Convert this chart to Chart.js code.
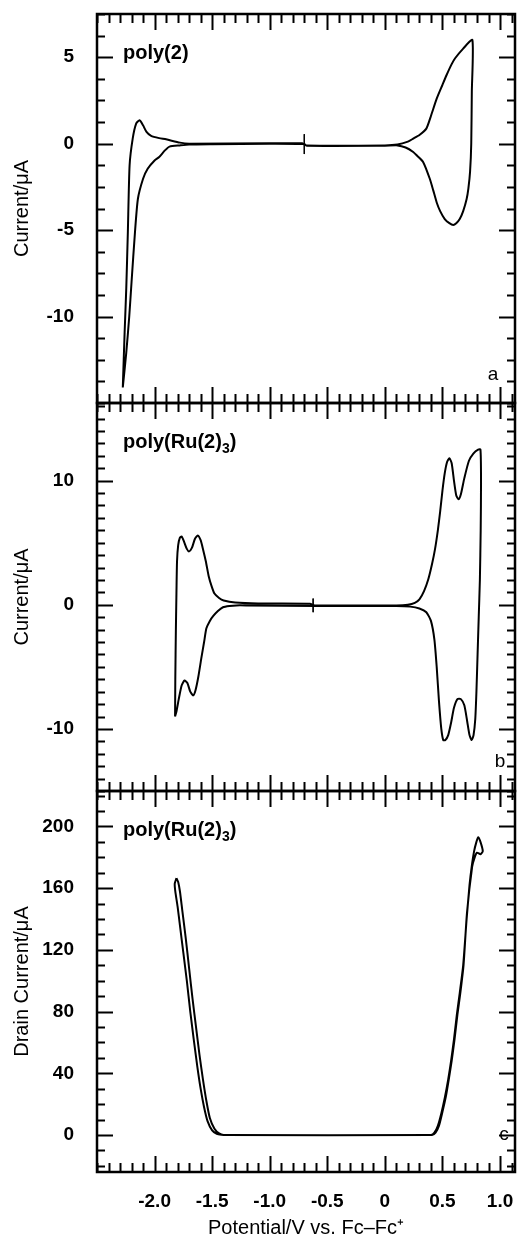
<!DOCTYPE html>
<html><head><meta charset="utf-8">
<script src="https://cdn.jsdelivr.net/npm/chart.js@4.4.1/dist/chart.umd.min.js"></script>
<style>html,body{margin:0;padding:0;background:#fff;} #wrap{width:523px;height:1238px;position:relative;}</style>
</head><body><div id="wrap"><canvas id="cv"></canvas></div>
<script>
// ---------- axes ----------
const potentialRange = [-2.5, 1.13];
const xTickValues = [-2.0, -1.5, -1.0, -0.5, 0, 0.5, 1.0];
const xTickLabels = ['-2.0', '-1.5', '-1.0', '-0.5', '0', '0.5', '1.0'];
const xMinorStep = 0.1;

const aRange = [-15, 7.5];
const aTickValues = [-10, -5, 0, 5];
const aTickLabels = ['-10', '-5', '0', '5'];
const aMinorStep = 1.25;

const bRange = [-15, 16.25];
const bTickValues = [-10, 0, 10];
const bTickLabels = ['-10', '0', '10'];
const bMinorStep = 1;

const cRange = [-24, 223];
const cTickValues = [0, 40, 80, 120, 160, 200];
const cTickLabels = ['0', '40', '80', '120', '160', '200'];
const cMinorStep = 10;

// ---------- panel a : poly(2) ----------
const aPotential = [-2.276,-2.26,-2.246,-2.232,-2.217,-2.19,-2.16,-2.13,-2.10,-2.07,-2.03,-1.96,-1.90,-1.78,-1.70,-1.0,-0.72,-0.68,0.0,0.11,0.20,0.246,0.30,0.36,0.40,0.45,0.50,0.536,0.58,0.61,0.68,0.76,
  0.755,0.75,0.74,0.725,0.71,0.68,0.65,0.62,0.594,0.56,0.52,0.48,0.45,0.42,0.39,0.333,0.28,0.246,0.18,0.11,0.0,-0.68,-0.70,-1.0,-1.5,-1.70,-1.78,-1.87,-1.91,-1.96,-2.0,-2.06,-2.10,-2.145,-2.17,-2.20,-2.22,-2.246,-2.276];
const aCurrent = [-14.1,-10.9,-8.4,-5.1,-1.26,0.29,1.16,1.35,1.06,0.68,0.45,0.32,0.25,0.06,0.0,0.02,0.02,-0.1,-0.1,-0.05,0.12,0.29,0.5,0.87,1.6,2.6,3.4,3.97,4.6,4.94,5.5,6.0,
  3.0,0.0,-1.6,-2.6,-3.2,-3.9,-4.36,-4.6,-4.7,-4.6,-4.36,-3.9,-3.4,-2.7,-2.03,-1.07,-0.7,-0.48,-0.22,-0.1,-0.12,-0.12,-0.02,0.0,-0.03,-0.05,-0.1,-0.17,-0.39,-0.77,-0.97,-1.45,-2.03,-3.2,-5.1,-8.0,-10.0,-12.1,-14.1];
const aMarkPotential = [-0.70, -0.70];
const aMarkCurrent = [0.55, -0.6];

// ---------- panel b : poly(Ru(2)3) ----------
const bPotential = [-1.822,-1.82,-1.815,-1.81,-1.805,-1.795,-1.78,-1.765,-1.745,-1.72,-1.70,-1.675,-1.65,-1.625,-1.60,-1.58,-1.555,-1.53,-1.505,-1.48,-1.44,-1.40,-1.30,-1.10,-0.65,
  -0.61,0.10,0.20,0.26,0.30,0.34,0.377,0.41,0.435,0.46,0.48,0.50,0.52,0.54,0.56,0.58,0.60,0.62,0.64,0.66,0.69,0.73,0.77,0.81,0.83,
  0.835,0.832,0.825,0.815,0.805,0.795,0.785,0.77,0.754,0.735,0.715,0.69,0.66,0.63,0.60,0.575,0.55,0.525,0.507,0.49,0.47,0.45,0.43,0.40,0.36,0.30,0.22,0.10,
  -0.6,-1.2,-1.29,-1.35,-1.406,-1.45,-1.49,-1.52,-1.55,-1.57,-1.594,-1.62,-1.645,-1.665,-1.69,-1.715,-1.74,-1.765,-1.79,-1.81,-1.822];
const bCurrent = [-9.0,-6.0,-2.0,1.0,3.5,4.8,5.4,5.5,5.1,4.5,4.3,4.6,5.3,5.58,5.2,4.5,3.5,2.3,1.5,0.9,0.55,0.35,0.18,0.1,0.08,
  -0.05,-0.05,0.0,0.15,0.44,1.1,2.05,3.3,4.46,6.0,7.5,9.2,10.6,11.5,11.8,11.4,10.0,8.8,8.5,8.9,10.2,11.6,12.2,12.5,12.5,
  10,6,2,-1,-4,-7,-9.2,-10.5,-10.9,-10.5,-9.4,-8.1,-7.6,-7.6,-8.3,-9.5,-10.5,-10.9,-10.9,-10.0,-7.8,-5.0,-2.8,-1.3,-0.6,-0.3,-0.15,-0.1,
  -0.1,-0.05,-0.05,-0.1,-0.2,-0.5,-0.9,-1.3,-1.9,-3.0,-4.3,-5.8,-6.9,-7.3,-7.0,-6.3,-6.1,-6.5,-7.6,-8.6,-9.0];
const bMarkPotential = [-0.623, -0.623];
const bMarkCurrent = [0.5, -0.6];

// ---------- panel c : drain current ----------
const cPotential = [-1.81,-1.825,-1.82,-1.80,-1.78,-1.75,-1.72,-1.69,-1.66,-1.63,-1.60,-1.57,-1.54,-1.50,-1.46,-1.42,-1.38,
  0.40,0.43,0.46,0.49,0.52,0.55,0.575,0.60,0.625,0.65,0.68,0.71,0.735,0.754,0.775,0.795,0.81,0.83,0.85,
  0.83,0.80,0.78,0.758,0.713,0.683,0.655,0.63,0.605,0.58,0.555,0.53,0.50,0.47,0.44,0.41,
  -1.40,-1.44,-1.48,-1.52,-1.55,-1.58,-1.61,-1.64,-1.67,-1.70,-1.73,-1.76,-1.78,-1.795,-1.81];
const cCurrent = [166.5,163,158,148,136,118,100,80,62,45,30,18,9,3,0.8,0.2,0,
  0,1.5,6,14,24,36,48,62,78,92,110,140,162,174,184,190,193,190,184,
  182,183,180,174,144,110,92,78,62,48,36,25,15,6,1.5,0,
  0,1,4,11,22,36,52,70,88,108,128,146,158,164,166.5];

const panelAText = ['poly(2)'];
const panelBText = ['poly(Ru(2)', '3', ')'];
const panelCText = ['poly(Ru(2)', '3', ')'];
const panelLetters = ['a', 'b', 'c'];

// ---------- chart ----------
const FONT = "'Liberation Sans', Arial, Helvetica, sans-serif";
const toPts = (xs, ys) => xs.map((x, i) => ({x: x, y: ys[i]}));
const lineDs = (xs, ys, axis, w, t) => ({data: toPts(xs, ys), yAxisID: axis, showLine: true, borderColor: '#000', borderWidth: w, pointRadius: 0, tension: t, fill: false});

const panels = [
  {id: 'ya', range: aRange, ticks: aTickValues, minor: aMinorStep, text: panelAText, letterDy: 28, letterDx: 22},
  {id: 'yb', range: bRange, ticks: bTickValues, minor: bMinorStep, text: panelBText, letterDy: 29, letterDx: 15},
  {id: 'yc', range: cRange, ticks: cTickValues, minor: cMinorStep, text: panelCText, letterDy: 37, letterDx: 11}
];

function noPad(s) { s.paddingTop = 0; s.paddingBottom = 0; s.paddingLeft = 0; s.paddingRight = 0; }

function yScale(range, tv, tl, weight, title) {
  return {
    type: 'linear', position: 'left', stack: 'panels', stackWeight: weight,
    min: range[0], max: range[1],
    grid: {display: false}, border: {display: false},
    afterBuildTicks: s => { s.ticks = tv.map(v => ({value: v})); },
    afterFit: s => { s.width = 97; noPad(s); },
    ticks: {padding: 15, color: '#000', font: {family: FONT, size: 19, weight: 'bold'},
      callback: v => tl[tv.indexOf(v)]},
    title: {display: true, text: title, color: '#000', font: {family: FONT, size: 20, lineHeight: 1}, padding: {top: 12, bottom: 0}}
  };
}

const framePlugin = {
  id: 'frame',
  afterDatasetsDraw(chart) {
    const ctx = chart.ctx, ca = chart.chartArea, xs = chart.scales.x;
    ctx.save();
    ctx.strokeStyle = '#000';
    ctx.fillStyle = '#000';
    panels.forEach((p, idx) => {
      const s = chart.scales[p.id];
      const top = s.top, bot = s.bottom;
      ctx.lineWidth = 2;
      const n0 = Math.ceil(p.range[0] / p.minor - 1e-6), n1 = Math.floor(p.range[1] / p.minor + 1e-6);
      for (let n = n0; n <= n1; n++) {
        const v = n * p.minor;
        const y = Math.round(s.getPixelForValue(v)) + 0.5;
        const major = p.ticks.some(t => Math.abs(t - v) < 1e-6);
        const len = major ? 16 : 8;
        ctx.beginPath();
        ctx.moveTo(ca.left, y); ctx.lineTo(ca.left + len, y);
        ctx.moveTo(ca.right, y); ctx.lineTo(ca.right - len, y);
        ctx.stroke();
      }
      const m0 = Math.ceil(potentialRange[0] / xMinorStep - 1e-6), m1 = Math.floor(potentialRange[1] / xMinorStep + 1e-6);
      for (let m = m0; m <= m1; m++) {
        const v = m * xMinorStep;
        const x = Math.round(xs.getPixelForValue(v)) + 0.5;
        const major = xTickValues.some(t => Math.abs(t - v) < 1e-6);
        const len = major ? 16 : 9;
        ctx.beginPath();
        ctx.moveTo(x, top); ctx.lineTo(x, top + len);
        ctx.moveTo(x, bot); ctx.lineTo(x, bot - len);
        ctx.stroke();
      }
      ctx.lineWidth = 2.5;
      ctx.strokeRect(ca.left, top, ca.right - ca.left, bot - top);
      ctx.font = '19px ' + FONT;
      ctx.textAlign = 'center'; ctx.textBaseline = 'middle';
      ctx.fillText(panelLetters[idx], ca.right - p.letterDx, bot - p.letterDy);
      ctx.textAlign = 'left'; ctx.textBaseline = 'alphabetic';
      const txt = p.text;
      let x = ca.left + 26;
      const ly = top + 45;
      ctx.font = 'bold 20px ' + FONT;
      ctx.fillText(txt[0], x, ly); x += ctx.measureText(txt[0]).width;
      if (txt.length > 1) {
        ctx.font = 'bold 14px ' + FONT;
        ctx.fillText(txt[1], x, ly + 5); x += ctx.measureText(txt[1]).width;
        ctx.font = 'bold 20px ' + FONT;
        ctx.fillText(txt[2], x, ly);
      }
    });
    ctx.restore();
  }
};

new Chart(document.getElementById('cv'), {
  type: 'scatter',
  data: {datasets: [
    lineDs(aPotential, aCurrent, 'ya', 2, 0.2),
    lineDs(aMarkPotential, aMarkCurrent, 'ya', 1, 0),
    lineDs(bPotential, bCurrent, 'yb', 2, 0.2),
    lineDs(bMarkPotential, bMarkCurrent, 'yb', 1, 0),
    lineDs(cPotential, cCurrent, 'yc', 2, 0.2)
  ]},
  options: {
    responsive: true, maintainAspectRatio: false, animation: false,
    layout: {padding: {top: 14, right: 8, left: 0, bottom: 0}},
    plugins: {legend: {display: false}, tooltip: {enabled: false}},
    scales: {
      x: {type: 'linear', position: 'bottom', min: potentialRange[0], max: potentialRange[1],
        grid: {display: false}, border: {display: false},
        afterBuildTicks: s => { s.ticks = xTickValues.map(v => ({value: v})); },
        afterFit: s => { s.height = 66; noPad(s); },
        ticks: {padding: 10, color: '#000', maxRotation: 0, autoSkip: false, font: {family: FONT, size: 19, weight: 'bold'},
          callback: v => xTickLabels[xTickValues.indexOf(v)]},
        title: {display: true, text: 'Potential/V vs. Fc\u2013Fc\u207A', color: '#000', font: {family: FONT, size: 20, lineHeight: 1}, padding: {top: 0, bottom: 0}}
      },
      yc: yScale(cRange, cTickValues, cTickLabels, 381, 'Drain Current/\u03BCA'),
      yb: yScale(bRange, bTickValues, bTickLabels, 388, 'Current/\u03BCA'),
      ya: yScale(aRange, aTickValues, aTickLabels, 389, 'Current/\u03BCA')
    }
  },
  plugins: [framePlugin]
});
</script></body></html>
